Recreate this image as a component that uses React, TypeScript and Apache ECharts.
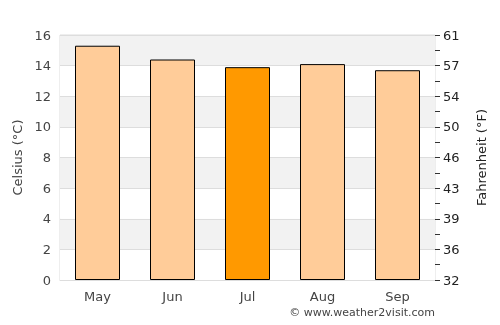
import React, { useEffect, useRef } from "react";
import * as echarts from "echarts";

const months = ["May", "Jun", "Jul", "Aug", "Sep"];
const celsius = [15.3, 14.4, 13.9, 14.1, 13.7];
const highlightIndex = 2;

export default function App() {
  const ref = useRef<HTMLDivElement>(null);
  useEffect(() => {
    const chart = echarts.init(ref.current!, null, { renderer: "svg" });
    chart.setOption({
      animation: false,
      textStyle: { fontFamily: "DejaVu Sans" },
      grid: { left: 60, right: 65, top: 35, bottom: 45, show: true, borderColor: "#dddddd", borderWidth: 1 },
      xAxis: {
        type: "category",
        data: months,
        axisLine: { show: true, lineStyle: { color: "#dddddd" } },
        axisTick: { show: false },
        axisLabel: { color: "#444", fontSize: 13, margin: 10 },
      },
      yAxis: [
        {
          type: "value",
          min: 0,
          max: 16,
          interval: 2,
          name: "Celsius (°C)",
          nameLocation: "middle",
          nameGap: 36,
          nameTextStyle: { color: "#444", fontSize: 13 },
          axisLine: { show: false },
          axisTick: { show: false },
          axisLabel: { color: "#444", fontSize: 13, margin: 9 },
          splitLine: { show: true, lineStyle: { color: "#dddddd" } },
          splitArea: { show: true, areaStyle: { color: ["#ffffff", "#f2f2f2"] } },
        },
        {
          type: "value",
          min: 0,
          max: 16,
          interval: 2,
          position: "right",
          name: "Fahrenheit (°F)",
          nameLocation: "middle",
          nameGap: 40,
          nameTextStyle: { color: "#222", fontSize: 13 },
          axisLine: { show: false },
          axisTick: { show: true, length: 5, lineStyle: { color: "#333" } },
          minorTick: { show: true, splitNumber: 2, length: 5, lineStyle: { color: "#333" } },
          axisLabel: {
            color: "#222",
            fontSize: 13,
            margin: 8,
            formatter: (v: number) => String(Math.round(v * 1.8 + 32)),
          },
          splitLine: { show: false },
        },
      ],
      series: [
        {
          type: "bar",
          barWidth: "60%",
          data: celsius.map((v, i) => ({
            value: v,
            itemStyle: { color: i === highlightIndex ? "#ff9900" : "#ffcc99" },
          })),
          itemStyle: { borderColor: "#000", borderWidth: 1 },
        },
      ],
      graphic: [
        {
          type: "text",
          right: 65,
          top: 307,
          style: { text: "© www.weather2visit.com", fill: "#444", fontSize: 11, fontFamily: "DejaVu Sans" },
        },
      ],
    });
    return () => chart.dispose();
  }, []);
  return <div ref={ref} style={{ position: "fixed", left: 0, top: 0, width: 500, height: 325 }} />;
}
